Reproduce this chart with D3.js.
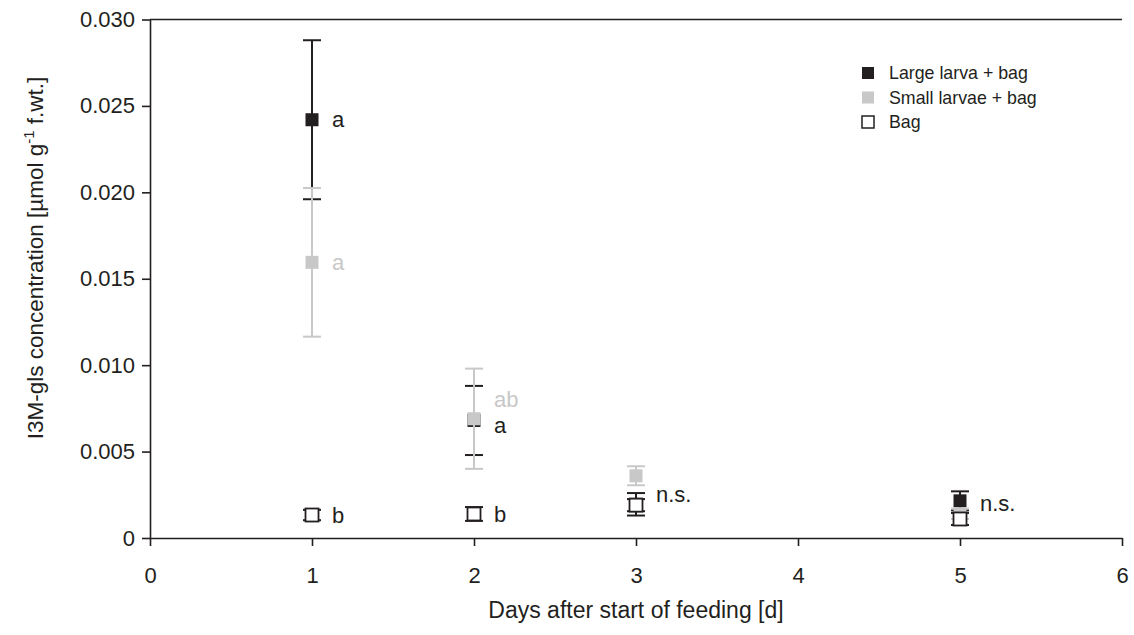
<!DOCTYPE html>
<html>
<head>
<meta charset="utf-8">
<script src="https://cdn.jsdelivr.net/npm/d3@7"></script>
<style>
  body { margin: 0; background: #fff; }
  svg { font-family: "Liberation Sans", Arial, sans-serif; }
  .axis path, .axis line { stroke: #231f20; stroke-width: 1.6; }
  .axis text { fill: #231f20; font-size: 22px; }
</style>
</head>
<body>
<svg id="chart" width="1134" height="635"></svg>
<script>
// ---- data ----
const days = [1, 2, 3, 5];
const seriesNames = ["Large larva + bag", "Small larvae + bag", "Bag"];

const largeMean  = [0.0242, 0.0068, 0.00195, 0.00215];
const largeErr   = [0.0046, 0.0020, 0.00065, 0.00055];
const smallMean  = [0.01595, 0.0069, 0.0036, 0.0014];
const smallErr   = [0.0043, 0.0029, 0.00055, 0.0003];
const bagMean    = [0.00133, 0.00139, 0.0019, 0.0011];
const bagErr     = [0.0003, 0.0004, 0.00035, 0.00035];

const xTicks = [0, 1, 2, 3, 4, 5, 6];
const yTicks = [0, 0.005, 0.010, 0.015, 0.020, 0.025, 0.030];

// significance letters: [day, y value, text, series]
const letters = [
  [1, 0.0242, "a", 0],
  [1, 0.01595, "a", 1],
  [1, 0.00133, "b", 2],
  [2, 0.0080, "ab", 1],
  [2, 0.0065, "a", 0],
  [2, 0.00139, "b", 2],
  [3, 0.0025, "n.s.", 0],
  [5, 0.0020, "n.s.", 0]
];

//-------------------------------------------------------------------------------

const svg = d3.select("#chart");
const mLeft = 150, mRight = 1122, mTop = 19.5, mBottom = 538;
const ink = "#231f20", grey = "#c8c8c8";
const colours = [ink, grey, "#fff"];
const sq = 13, cap = 18;

const x = d3.scaleLinear().domain([0, 6]).range([mLeft, mRight]);
const y = d3.scaleLinear().domain([0, 0.030]).range([mBottom, mTop]);

const fmt = d => d === 0 ? "0" : d3.format(".3f")(d);

svg.append("g").attr("class", "axis")
  .attr("transform", `translate(0,${mBottom})`)
  .call(d3.axisBottom(x).tickValues(xTicks).tickFormat(d3.format("d"))
    .tickSize(8).tickSizeOuter(0).tickPadding(21));

svg.append("g").attr("class", "axis")
  .attr("transform", `translate(${mLeft},0)`)
  .call(d3.axisLeft(y).tickValues(yTicks).tickFormat(fmt)
    .tickSize(8).tickSizeOuter(0).tickPadding(7));

// top frame line
svg.append("line")
  .attr("x1", mLeft).attr("x2", mRight).attr("y1", y(0.030)).attr("y2", y(0.030))
  .attr("stroke", ink).attr("stroke-width", 1.6);

svg.append("text")
  .attr("x", 636).attr("y", 618)
  .attr("text-anchor", "middle").attr("font-size", 23).attr("fill", ink)
  .text("Days after start of feeding [d]");

const yt = svg.append("text")
  .attr("transform", "translate(43,258) rotate(-90)")
  .attr("text-anchor", "middle").attr("font-size", 22.5).attr("fill", ink);
yt.append("tspan").text("I3M-gls concentration [µmol g");
yt.append("tspan").attr("dy", -9).attr("font-size", 15).text("-1");
yt.append("tspan").attr("dy", 9).text(" f.wt.]");

// ---- series ----
function drawSeries(means, errs, i) {
  const col = i === 1 ? grey : ink;
  const pts = days.map((d, k) => ({ d, m: means[k], e: errs[k] }));
  const g = svg.append("g");
  g.selectAll(".bar").data(pts).join("line")
    .attr("x1", p => x(p.d)).attr("x2", p => x(p.d))
    .attr("y1", p => y(p.m + p.e)).attr("y2", p => y(p.m - p.e))
    .attr("stroke", col).attr("stroke-width", 2);
  [1, -1].forEach(s => {
    g.selectAll(null).data(pts).join("line")
      .attr("x1", p => x(p.d) - cap / 2).attr("x2", p => x(p.d) + cap / 2)
      .attr("y1", p => y(p.m + s * p.e)).attr("y2", p => y(p.m + s * p.e))
      .attr("stroke", col).attr("stroke-width", 2);
  });
  g.selectAll("rect").data(pts).join("rect")
    .attr("x", p => x(p.d) - sq / 2).attr("y", p => y(p.m) - sq / 2)
    .attr("width", sq).attr("height", sq)
    .attr("fill", colours[i])
    .attr("stroke", i === 2 ? ink : "none").attr("stroke-width", 1.8);
}

drawSeries(largeMean, largeErr, 0);
drawSeries(smallMean, smallErr, 1);
drawSeries(bagMean, bagErr, 2);

svg.append("g").selectAll("text").data(letters).join("text")
  .attr("x", l => x(l[0]) + 20).attr("y", l => y(l[1]))
  .attr("dy", "0.35em").attr("font-size", 22)
  .attr("fill", l => l[3] === 1 ? grey : ink)
  .text(l => l[2]);

// ---- legend ----
const lg = svg.append("g").attr("transform", "translate(868,73)");
seriesNames.forEach((n, i) => {
  lg.append("rect")
    .attr("x", -6).attr("y", i * 24.5 - 6).attr("width", 12).attr("height", 12)
    .attr("fill", colours[i]).attr("stroke", i === 2 ? ink : "none").attr("stroke-width", 1.5);
  lg.append("text")
    .attr("x", 21).attr("y", i * 24.5).attr("dy", "0.35em")
    .attr("font-size", 17.8).attr("fill", ink).text(n);
});
</script>
</body>
</html>
